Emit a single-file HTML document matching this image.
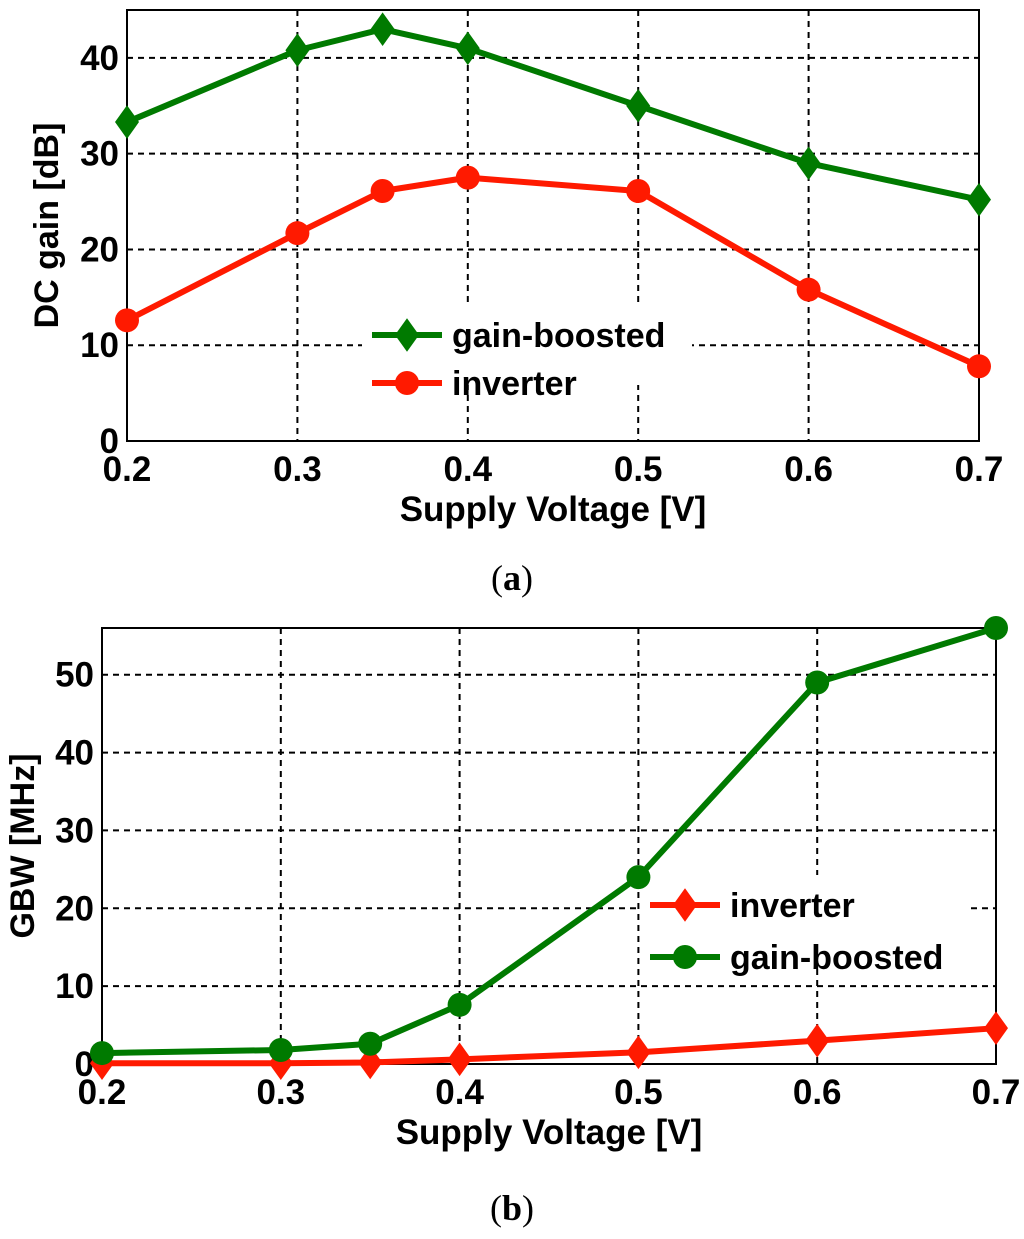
<!DOCTYPE html>
<html><head><meta charset="utf-8"><style>
body{margin:0;background:#fff;width:1024px;height:1234px;overflow:hidden}
svg text{font-family:"Liberation Sans",Arial,sans-serif;font-weight:bold;fill:#000}
</style></head><body>
<svg id="svg" width="1024" height="1234"></svg>
<script>
const xCats=[0.2,0.3,0.35,0.4,0.5,0.6,0.7];
const xTicks=[0.2,0.3,0.4,0.5,0.6,0.7];
const aGain=[33.3,40.8,43,41,35,29,25.2];
const aInv=[12.6,21.7,26.1,27.5,26.1,15.8,7.8];
const aYTicks=[0,10,20,30,40];
const bInv=[0.1,0.1,0.2,0.6,1.5,3,4.6];
const bGain=[1.4,1.8,2.6,7.6,24,49,56];
const bYTicks=[0,10,20,30,40,50];
const NS='http://www.w3.org/2000/svg';
const svg=document.getElementById('svg');
function el(t,a,p){const e=document.createElementNS(NS,t);for(const k in a)e.setAttribute(k,a[k]);(p||svg).appendChild(e);return e;}
const GREEN='#007a00',RED='#ff1a00';
function marker(g,type,x,y,c,r){
 if(type==='d'){const m=el('polygon',{points:`${x},${y-r*1.4} ${x+r},${y} ${x},${y+r*1.4} ${x-r},${y}`,fill:c},g);return m;}
 return el('circle',{cx:x,cy:y,r:r,fill:c},g);
}
function chart(o){
 const g=el('g',{});
 
 
 const X=v=>o.L+(v-0.2)/0.5*(o.R-o.L);
 const Y=v=>o.B-(v-0)/o.ymax*(o.B-o.T);
 el('rect',{x:o.L,y:o.T,width:o.R-o.L,height:o.B-o.T,fill:'#fff'},g);
 xTicks.forEach(t=>{const l=el('line',{x1:X(t),x2:X(t),y1:o.T,y2:o.B,stroke:'#000','stroke-width':2,'stroke-dasharray':'6,5'},g);
  
  const tx=el('text',{x:X(t),y:o.B+40,'text-anchor':'middle','font-size':35},g);tx.textContent=t.toFixed(1);
  });
 o.yt.forEach(t=>{const l=el('line',{x1:o.L,x2:o.R,y1:Y(t),y2:Y(t),stroke:'#000','stroke-width':2,'stroke-dasharray':'6,5'},g);
  
  const tx=el('text',{x:o.L-8,y:Y(t)+12,'text-anchor':'end','font-size':35},g);tx.textContent=t;
  });
 const fr=el('rect',{x:o.L,y:o.T,width:o.R-o.L,height:o.B-o.T,fill:'none',stroke:'#000','stroke-width':2},g);
 
 el('rect',{x:o.lg[0],y:o.lg[1]-30,width:o.lg[2],height:o.lgH,fill:'#fff'},g);
 o.series.forEach((s,i)=>{
  const pts=xCats.map((x,j)=>X(x)+','+Y(s.v[j])).join(' ');
  const pl=el('polyline',{points:pts,fill:'none',stroke:s.c,'stroke-width':6,'stroke-linejoin':'round'},g);
  
  xCats.forEach((x,j)=>{const m=marker(g,s.m,X(x),Y(s.v[j]),s.c,12);
   });
  const ly=o.lg[1]+i*o.lgStep;
  const ll=el('line',{x1:o.lg[0]+10,x2:o.lg[0]+80,y1:ly,y2:ly,stroke:s.c,'stroke-width':6},g);
  
  marker(g,s.m,o.lg[0]+45,ly,s.c,12);
  const lt=el('text',{x:o.lg[0]+90,y:ly+12,'font-size':34},g);lt.textContent=s.label;
  
 });
 const xt=el('text',{x:(o.L+o.R)/2,y:o.B+80,'text-anchor':'middle','font-size':35},g);xt.textContent='Supply Voltage [V]';
 
 const cy=(o.T+o.B)/2;
 const yt=el('text',{x:o.ytx,y:cy,'text-anchor':'middle','font-size':34,transform:`rotate(-90 ${o.ytx} ${cy})`},g);yt.textContent=o.ylab;
 
 const cp=el('text',{x:512,y:o.cap,'text-anchor':'middle','font-size':36,style:'font-family:"Liberation Serif",serif;font-weight:normal'},g);
 cp.innerHTML=o.capT;
 
}
chart({name:'chart-a',L:127,R:979,T:10,B:441,ymax:45,yt:aYTicks,ylab:'DC gain [dB]',ytx:58,cap:590,capT:'(<tspan font-weight="bold">a</tspan>)',
 lg:[362,335,330],lgH:80,lgStep:48,
 series:[{id:'gain-boosted',v:aGain,c:GREEN,m:'d',label:'gain-boosted'},{id:'inverter',v:aInv,c:RED,m:'o',label:'inverter'}]});
chart({name:'chart-b',L:102,R:996,T:628,B:1064,ymax:56,yt:bYTicks,ylab:'GBW [MHz]',ytx:34,cap:1220,capT:'(<tspan font-weight="bold">b</tspan>)',
 lg:[640,905,330],lgH:90,lgStep:52,
 series:[{id:'inverter',v:bInv,c:RED,m:'d',label:'inverter'},{id:'gain-boosted',v:bGain,c:GREEN,m:'o',label:'gain-boosted'}]});
</script>
</body></html>
